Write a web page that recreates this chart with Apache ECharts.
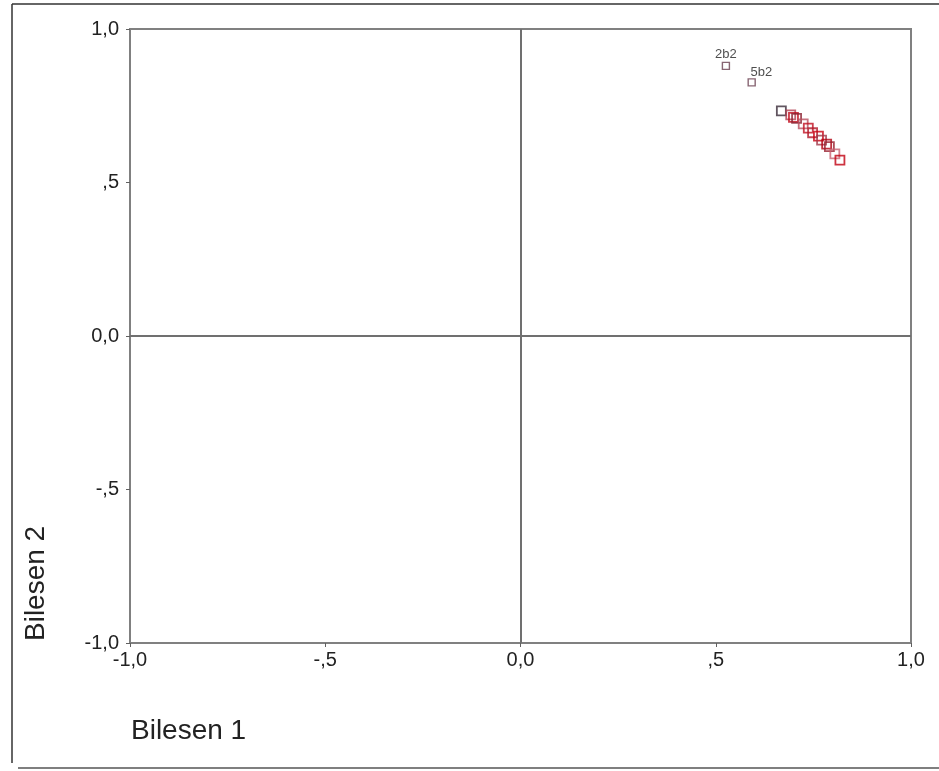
<!DOCTYPE html>
<html><head><meta charset="utf-8">
<script src="https://cdn.jsdelivr.net/npm/echarts@6/dist/echarts.min.js"></script>
<style>html,body{margin:0;padding:0;background:#fff}#c{width:939px;height:771px}</style>
</head><body><div id="c"></div>
<script>
// Component loadings (Bilesen 1, Bilesen 2)
const comp1 = [0.526, 0.592, 0.668, 0.692, 0.699, 0.707, 0.724, 0.737, 0.748, 0.763, 0.771, 0.784, 0.791, 0.805, 0.818];
const comp2 = [0.880, 0.826, 0.733, 0.720, 0.712, 0.709, 0.691, 0.677, 0.662, 0.651, 0.638, 0.625, 0.617, 0.593, 0.573];
const pointLabels = ["2b2", "5b2", "", "", "", "", "", "", "", "", "", "", "", "", ""];
const pointColors = ["#6a4050", "#6a4050", "#3a2a38", "#b04050", "#c00818", "#8a2030", "#b85060", "#c01020", "#b01828", "#c80010", "#a03848", "#b00010", "#982030", "#c86070", "#c00010"];
const tickLabels = {"-1": "-1,0", "-0.5": "-,5", "0": "0,0", "0.5": ",5", "1": "1,0"};
const xName = "Bilesen 1";
const yName = "Bilesen 2";

const fmt = v => tickLabels[String(Math.round(v * 10) / 10)] ?? "";
const font = "Liberation Sans, Arial, sans-serif";

const chart = echarts.init(document.getElementById('c'));
const axisCommon = {
  type: 'value', min: -1, max: 1, interval: 0.5,
  axisLine: {show: true, onZero: false, lineStyle: {color: '#808080', width: 2}},
  axisTick: {show: true, inside: false, length: 4, lineStyle: {color: '#606060', width: 1}},
  splitLine: {show: false},
  axisLabel: {formatter: fmt, color: '#222', fontSize: 20, fontFamily: font}
};
chart.setOption({
  animation: false,
  grid: {left: 130, top: 29, width: 781, height: 614, show: true, borderColor: '#808080', borderWidth: 2, backgroundColor: '#fff'},
  xAxis: Object.assign({}, axisCommon, {axisLabel: Object.assign({}, axisCommon.axisLabel, {margin: 7})}),
  yAxis: Object.assign({}, axisCommon, {axisLabel: Object.assign({}, axisCommon.axisLabel, {margin: 11})}),
  graphic: [
    {type: 'line', shape: {x1: 12, y1: 4, x2: 939, y2: 4}, style: {stroke: '#333', lineWidth: 1.5}},
    {type: 'line', shape: {x1: 12, y1: 4, x2: 12, y2: 763}, style: {stroke: '#333', lineWidth: 1.5}},
    {type: 'line', shape: {x1: 18, y1: 768, x2: 939, y2: 768}, style: {stroke: '#555', lineWidth: 1.5}},
    {type: 'text', left: 131, top: 717, style: {text: xName, font: '28px ' + font, fill: '#222'}},
    {type: 'text', x: 22, y: 641, rotation: Math.PI / 2, style: {text: yName, font: '28px ' + font, fill: '#222', textAlign: 'left', textVerticalAlign: 'top'}}
  ],
  series: [{
    type: 'scatter',
    symbol: 'rect',
    symbolSize: (v, p) => p.dataIndex < 2 ? 7 : 9,
    data: comp1.map((x, i) => ({
      value: [x, comp2[i]],
      itemStyle: {color: 'rgba(255,255,255,0)', borderColor: pointColors[i], borderWidth: i < 2 ? 1.4 : 1.8},
      label: {show: pointLabels[i] !== '', formatter: pointLabels[i],
              position: i === 0 ? 'top' : [3, -12], distance: 1,
              fontSize: 13, color: '#222', fontFamily: font}
    })),
    markLine: {
      silent: true, symbol: 'none', label: {show: false},
      lineStyle: {color: '#707070', width: 2, type: 'solid'},
      data: [{xAxis: 0}, {yAxis: 0}]
    }
  }]
});
</script></body></html>
